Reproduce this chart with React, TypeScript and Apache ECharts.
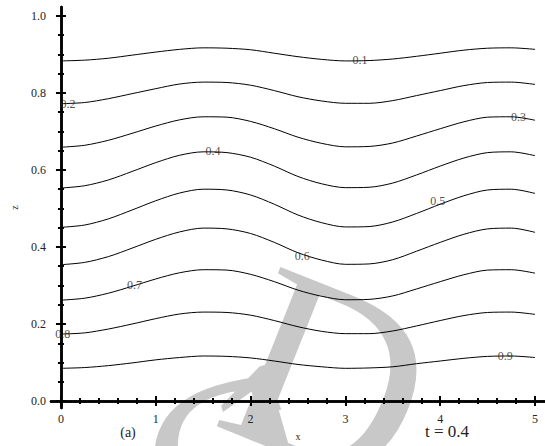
import React, { useEffect, useRef } from "react";
import * as echarts from "echarts";

// x positions of the sampled contour points
const xs = [0, 0.25, 0.5, 0.75, 1, 1.25, 1.5, 1.75, 2, 2.25, 2.5, 2.75, 3, 3.25, 3.5, 3.75, 4, 4.25, 4.5, 4.75, 5];
// contour z-values (levels 0.1 ... 0.9)
const c01 = [0.883, 0.885, 0.890, 0.898, 0.906, 0.913, 0.917, 0.916, 0.912, 0.903, 0.894, 0.887, 0.883, 0.884, 0.888, 0.895, 0.903, 0.911, 0.916, 0.917, 0.913];
const c02 = [0.772, 0.775, 0.785, 0.798, 0.811, 0.823, 0.828, 0.827, 0.820, 0.806, 0.790, 0.779, 0.773, 0.773, 0.780, 0.793, 0.806, 0.819, 0.827, 0.828, 0.822];
const c03 = [0.659, 0.664, 0.677, 0.695, 0.714, 0.730, 0.738, 0.737, 0.726, 0.707, 0.685, 0.669, 0.660, 0.661, 0.670, 0.688, 0.707, 0.725, 0.737, 0.738, 0.729];
const c04 = [0.553, 0.559, 0.574, 0.596, 0.619, 0.638, 0.647, 0.645, 0.633, 0.610, 0.583, 0.564, 0.554, 0.555, 0.566, 0.587, 0.610, 0.631, 0.645, 0.647, 0.637];
const c05 = [0.451, 0.457, 0.473, 0.496, 0.520, 0.540, 0.550, 0.548, 0.535, 0.511, 0.483, 0.463, 0.452, 0.453, 0.465, 0.487, 0.511, 0.533, 0.548, 0.550, 0.539];
const c06 = [0.354, 0.360, 0.375, 0.397, 0.420, 0.439, 0.449, 0.447, 0.435, 0.412, 0.385, 0.366, 0.355, 0.356, 0.367, 0.389, 0.412, 0.433, 0.447, 0.449, 0.438];
const c07 = [0.262, 0.267, 0.280, 0.298, 0.317, 0.333, 0.341, 0.340, 0.329, 0.310, 0.288, 0.272, 0.263, 0.264, 0.273, 0.291, 0.310, 0.328, 0.340, 0.341, 0.332];
const c08 = [0.174, 0.177, 0.187, 0.200, 0.214, 0.226, 0.231, 0.230, 0.223, 0.209, 0.193, 0.181, 0.175, 0.175, 0.182, 0.195, 0.209, 0.222, 0.230, 0.231, 0.225];
const c09 = [0.085, 0.087, 0.092, 0.099, 0.107, 0.113, 0.117, 0.116, 0.112, 0.104, 0.095, 0.089, 0.085, 0.086, 0.089, 0.097, 0.104, 0.111, 0.116, 0.117, 0.113];
const contours = [c01, c02, c03, c04, c05, c06, c07, c08, c09];

// contour labels and where they sit
const levelLabels = ["0.1", "0.2", "0.3", "0.4", "0.5", "0.6", "0.7", "0.8", "0.9"];
const labelX = [3.16, 0.08, 4.83, 1.61, 3.98, 2.55, 0.78, 0.025, 4.69];
const labelZ = [0.884, 0.770, 0.736, 0.647, 0.517, 0.374, 0.300, 0.174, 0.116];

// axis ticks
const xMajor = [0, 1, 2, 3, 4, 5];
const xMinor = [0.2, 0.4, 0.6, 0.8, 1.2, 1.4, 1.6, 1.8, 2.2, 2.4, 2.6, 2.8, 3.2, 3.4, 3.6, 3.8, 4.2, 4.4, 4.6, 4.8];
const yMajor = [0, 0.2, 0.4, 0.6, 0.8, 1.0];
const yMinor = [0.05, 0.1, 0.15, 0.25, 0.3, 0.35, 0.45, 0.5, 0.55, 0.65, 0.7, 0.75, 0.85, 0.9, 0.95];

const X_MIN = -0.105;
const X_MAX = 5.105;
const Y_MIN = -0.018;
const Y_MAX = 1.023;

const SERIF = "Liberation Serif";

export default function App() {
  const ref = useRef<HTMLDivElement>(null);
  useEffect(() => {
    if (!ref.current) return;
    const chart = echarts.init(ref.current, null, { renderer: "svg" });

    const frameLine = { show: true, lineStyle: { color: "#000", width: 2.5 } };
    const majorTick = (vals: number[]) => ({
      show: true, inside: true, length: 5, customValues: vals,
      lineStyle: { color: "#000", width: 2 },
    });
    const minorTick = (vals: number[]) => ({
      show: true, inside: true, length: 3, customValues: vals,
      lineStyle: { color: "#000", width: 2 },
    });
    const xBase = { type: "value", min: X_MIN, max: X_MAX, splitLine: { show: false } };
    const yBase = { type: "value", min: Y_MIN, max: Y_MAX, splitLine: { show: false } };

    const lineSeries = contours.map((c, i) => ({
      type: "line",
      name: levelLabels[i],
      data: xs.map((x, j) => [x, c[j]]),
      smooth: 0.3,
      showSymbol: false,
      symbol: "none",
      lineStyle: { color: "#000", width: 1 },
      silent: true,
      z: 3,
    }));

    const wm = { fontFamily: SERIF, fill: "#c8c8c8" };

    chart.setOption({
      animation: false,
      backgroundColor: "#fff",
      grid: { left: 51, right: -3, top: 7, bottom: 37 },
      xAxis: [
        {
          ...xBase, position: "bottom",
          axisLine: frameLine,
          axisTick: majorTick(xMajor),
          axisLabel: {
            show: true, customValues: xMajor, margin: 5,
            fontFamily: SERIF, fontSize: 12, color: "#222",
            formatter: (v: number) => String(Math.round(v)),
          },
          name: "x", nameLocation: "middle", nameGap: 23,
          nameTextStyle: { fontFamily: SERIF, fontSize: 10, color: "#222" },
        },
        {
          ...xBase, position: "bottom",
          axisLine: { show: false }, axisTick: minorTick(xMinor), axisLabel: { show: false },
        },
        {
          ...xBase, position: "top",
          axisLine: frameLine, axisTick: majorTick(xMajor), axisLabel: { show: false },
        },
        {
          ...xBase, position: "top",
          axisLine: { show: false }, axisTick: minorTick(xMinor), axisLabel: { show: false },
        },
      ],
      yAxis: [
        {
          ...yBase, position: "left",
          axisLine: frameLine,
          axisTick: majorTick(yMajor),
          axisLabel: {
            show: true, customValues: yMajor, margin: 5,
            fontFamily: SERIF, fontSize: 12, color: "#222",
            formatter: (v: number) => v.toFixed(1),
          },
          name: "z", nameLocation: "middle", nameGap: 32, nameRotate: 90,
          nameTextStyle: { fontFamily: SERIF, fontSize: 10, color: "#222" },
        },
        {
          ...yBase, position: "left",
          axisLine: { show: false }, axisTick: minorTick(yMinor), axisLabel: { show: false },
        },
        {
          ...yBase, position: "right",
          axisLine: frameLine, axisTick: majorTick(yMajor), axisLabel: { show: false },
        },
        {
          ...yBase, position: "right",
          axisLine: { show: false }, axisTick: minorTick(yMinor), axisLabel: { show: false },
        },
      ],
      graphic: [
        {
          type: "text", x: 194, y: 463, rotation: -0.38, z: -10, silent: true,
          style: { ...wm, text: "D", fontSize: 262, textAlign: "left", textVerticalAlign: "bottom" },
        },
        {
          type: "text", x: 240, y: 326, rotation: 0.28, z: -10, silent: true,
          style: { ...wm, text: "1", fontSize: 250, textAlign: "center", textVerticalAlign: "top" },
        },
        {
          type: "text", x: 112, y: 372, rotation: 0.3, z: -10, silent: true,
          style: { ...wm, text: "C", fontSize: 250, textAlign: "left", textVerticalAlign: "top" },
        },
        {
          type: "text", x: 128, y: 432, z: 10, silent: true,
          style: { text: "(a)", fontFamily: SERIF, fontSize: 14, fill: "#222", textAlign: "center", textVerticalAlign: "middle" },
        },
        {
          type: "text", x: 447, y: 431, z: 10, silent: true,
          style: { text: "t = 0.4", fontFamily: SERIF, fontSize: 17, fill: "#222", textAlign: "center", textVerticalAlign: "middle" },
        },
      ],
      series: [
        ...lineSeries,
        {
          type: "scatter",
          data: labelX.map((x, i) => [x, labelZ[i], levelLabels[i]]),
          symbolSize: 1,
          itemStyle: { color: "rgba(0,0,0,0)" },
          silent: true,
          z: 4,
          label: {
            show: true, position: [0, 0], align: "center", verticalAlign: "middle",
            formatter: (p: any) => p.data[2],
            fontFamily: SERIF, fontSize: 12, color: "#222",
            textBorderWidth: 0,
          },
        },
      ],
    });
    return () => chart.dispose();
  }, []);
  return <div ref={ref} style={{ position: "absolute", left: 0, top: 0, width: 545, height: 446 }} />;
}
